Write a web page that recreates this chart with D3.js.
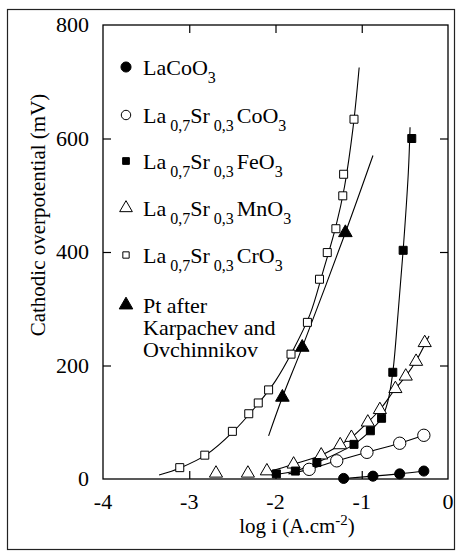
<!DOCTYPE html>
<html>
<head>
<meta charset="utf-8">
<script src="https://cdn.jsdelivr.net/npm/d3@7"></script>
<style>
  body { margin: 0; background: #fff; }
</style>
</head>
<body>
<svg id="chart" width="457" height="552" font-family="'Liberation Serif', 'Times New Roman', 'DejaVu Serif', serif"></svg>
<script>
// measured points, log i (A.cm-2) vs cathodic overpotential (mV)
var coLogI = [-1.21, -0.87, -0.56, -0.28];
var coMv = [1, 5, 9, 14];

var srCoLogI = [-1.61, -1.29, -0.94, -0.56, -0.28];
var srCoMv = [17, 32, 47, 63, 77];

var feLogI = [-1.99, -1.77, -1.52, -1.09, -0.90, -0.77, -0.64, -0.52, -0.42];
var feMv = [9, 14, 29, 61, 85, 107, 188, 403, 600];

var mnLogI = [-2.69, -2.32, -2.10, -1.79, -1.47, -1.25, -1.12, -0.93, -0.79, -0.61, -0.49, -0.37, -0.27];
var mnMv = [10, 10, 14, 26, 42, 60, 73, 100, 122, 159, 181, 207, 240];

var crLogI = [-3.11, -2.82, -2.50, -2.31, -2.20, -2.08, -1.82, -1.63, -1.49, -1.40, -1.30, -1.22, -1.21, -1.09];
var crMv = [20, 42, 84, 115, 134, 157, 220, 276, 352, 399, 441, 499, 537, 634];

var ptLogI = [-1.92, -1.69, -1.19];
var ptMv = [144, 232, 434];

// drawn curves
var coFitLogI = [-1.21, -0.87, -0.56, -0.28];
var coFitMv = [1, 5, 9, 14];
var srCoFitLogI = [-1.85, -1.61, -1.29, -0.94, -0.56, -0.28];
var srCoFitMv = [9, 17, 32, 47, 63, 77];
var feFitLogI = [-2.05, -1.77, -1.52, -1.09, -0.90, -0.77, -0.70, -0.64, -0.58, -0.52, -0.46, -0.44];
var feFitMv = [7, 14, 29, 61, 85, 107, 135, 188, 290, 403, 540, 620];
var mnFitLogI = [-2.10, -1.79, -1.47, -1.25, -1.12, -0.93, -0.79, -0.61, -0.49, -0.37, -0.22];
var mnFitMv = [12, 26, 42, 60, 73, 100, 122, 159, 181, 208, 252];
var crFitLogI = [-3.35, -3.10, -2.80, -2.50, -2.20, -2.00, -1.80, -1.60, -1.45, -1.30, -1.20, -1.10, -1.03];
var crFitMv = [7, 20, 43, 82, 133, 173, 226, 290, 365, 445, 515, 620, 725];
var ptFitLogI = [-2.08, -1.92, -1.69, -1.19, -0.87];
var ptFitMv = [76, 144, 232, 434, 570];

var xTicks = [-4, -3, -2, -1, 0];
var yTicks = [0, 200, 400, 600, 800];

var FONT = "'Liberation Serif', 'Times New Roman', 'DejaVu Serif', serif";

var svg = d3.select("#chart");

var x = d3.scaleLinear().domain([-4, 0]).range([103, 448]);
var y = d3.scaleLinear().domain([0, 800]).range([479, 25]);

function zip(a, b) { return a.map(function(v, i) { return [v, b[i]]; }); }

// outer frame of the figure
svg.append("rect")
    .attr("x", 7.5).attr("y", 9.5)
    .attr("width", 447).attr("height", 540)
    .attr("fill", "none")
    .attr("stroke", "#222")
    .attr("stroke-width", 1.2);

// plot box
svg.append("rect")
    .attr("x", x(-4)).attr("y", y(800))
    .attr("width", x(0) - x(-4)).attr("height", y(0) - y(800))
    .attr("fill", "none")
    .attr("stroke", "#000")
    .attr("stroke-width", 1.3);

// inward ticks on all four sides
var tickLen = 8;
var axB = d3.axisBottom(x).tickValues(xTicks.slice(1, -1)).tickSize(-tickLen).tickFormat("");
var axT = d3.axisTop(x).tickValues(xTicks.slice(1, -1)).tickSize(-tickLen).tickFormat("");
var axL = d3.axisLeft(y).tickValues(yTicks.slice(1, -1)).tickSize(-tickLen).tickFormat("");
var axR = d3.axisRight(y).tickValues(yTicks.slice(1, -1)).tickSize(-tickLen).tickFormat("");
svg.append("g").attr("transform", "translate(0," + y(0) + ")").call(axB);
svg.append("g").attr("transform", "translate(0," + y(800) + ")").call(axT);
svg.append("g").attr("transform", "translate(" + x(-4) + ",0)").call(axL);
svg.append("g").attr("transform", "translate(" + x(0) + ",0)").call(axR);
svg.selectAll(".domain").remove();
svg.selectAll(".tick line").attr("stroke", "#000").attr("stroke-width", 1.2);

// tick labels
svg.append("g").selectAll("text")
  .data(xTicks)
  .enter()
  .append("text")
    .attr("x", function(d) { return x(d); })
    .attr("y", 509)
    .attr("text-anchor", "middle")
    .style("font-family", FONT)
    .style("font-size", "22px")
    .text(function(d) { return d; });

svg.append("g").selectAll("text")
  .data(yTicks)
  .enter()
  .append("text")
    .attr("x", 89)
    .attr("y", function(d) { return y(d) + 7; })
    .attr("text-anchor", "end")
    .style("font-family", FONT)
    .style("font-size", "22px")
    .text(function(d) { return d; });

// axis titles
svg.append("text")
    .attr("transform", "translate(45,215) rotate(-90)")
    .attr("text-anchor", "middle")
    .style("font-family", FONT)
    .style("font-size", "21px")
    .text("Cathodic overpotential  (mV)");

var xt = svg.append("text")
    .attr("x", 297).attr("y", 533)
    .attr("text-anchor", "middle")
    .style("font-family", FONT)
    .style("font-size", "21px");
xt.append("tspan").text("log i  (A.cm");
xt.append("tspan").attr("dy", -8).style("font-size", "15px").text("-2");
xt.append("tspan").attr("dy", 8).text(")");

// fitted curves
var line = d3.line()
    .x(function(d) { return x(d[0]); })
    .y(function(d) { return y(d[1]); })
    .curve(d3.curveCatmullRom.alpha(0.5));

var fits = [
    zip(coFitLogI, coFitMv),
    zip(srCoFitLogI, srCoFitMv),
    zip(feFitLogI, feFitMv),
    zip(mnFitLogI, mnFitMv),
    zip(crFitLogI, crFitMv),
    zip(ptFitLogI, ptFitMv)
];
svg.append("g").selectAll("path")
  .data(fits)
  .enter()
  .append("path")
    .attr("d", line)
    .attr("fill", "none")
    .attr("stroke", "#000")
    .attr("stroke-width", 1.1);

// marker styles
var styles = {
    co:   { type: d3.symbolCircle,   size: 80, fill: "#000" },
    srCo: { type: d3.symbolCircle,   size: 120, fill: "#fff" },
    fe:   { type: d3.symbolSquare,   size: 64, fill: "#000" },
    mn:   { type: d3.symbolTriangle, size: 75, fill: "#fff" },
    cr:   { type: d3.symbolSquare,   size: 64, fill: "#fff" },
    pt:   { type: d3.symbolTriangle, size: 80, fill: "#000" }
};

function drawPoints(key, xs, ys) {
    var st = styles[key];
    svg.append("g").selectAll("path")
      .data(zip(xs, ys))
      .enter()
      .append("path")
        .attr("transform", function(d) { return "translate(" + x(d[0]) + "," + y(d[1]) + ")"; })
        .attr("d", d3.symbol().type(st.type).size(st.size))
        .attr("fill", st.fill)
        .attr("stroke", "#000")
        .attr("stroke-width", 1);
}

drawPoints("mn", mnLogI, mnMv);
drawPoints("srCo", srCoLogI, srCoMv);
drawPoints("fe", feLogI, feMv);
drawPoints("co", coLogI, coMv);
drawPoints("cr", crLogI, crMv);
drawPoints("pt", ptLogI, ptMv);

// legend
var legendKeys = ["co", "srCo", "fe", "mn", "cr", "pt"];
var legendY = [75, 123, 169, 216, 263, 313];
var legendSmall = { co: 80, srCo: 70, fe: 45, mn: 70, cr: 40, pt: 80 };
var legendLabels = [
    [["LaCoO", 0], ["3", 1]],
    [["La", 0], ["0,7", 1], ["Sr", 0], ["0,3", 1], ["CoO", 0], ["3", 1]],
    [["La", 0], ["0,7", 1], ["Sr", 0], ["0,3", 1], ["FeO", 0], ["3", 1]],
    [["La", 0], ["0,7", 1], ["Sr", 0], ["0,3", 1], ["MnO", 0], ["3", 1]],
    [["La", 0], ["0,7", 1], ["Sr", 0], ["0,3", 1], ["CrO", 0], ["3", 1]],
    [["Pt after", 0]]
];
var ptExtraLines = ["Karpachev and", "Ovchinnikov"];

var leg = svg.append("g").selectAll("g")
  .data(legendKeys)
  .enter()
  .append("g")
    .attr("transform", function(d, i) { return "translate(0," + legendY[i] + ")"; });

leg.append("path")
    .attr("transform", "translate(126,-8)")
    .attr("d", function(d) { return d3.symbol().type(styles[d].type).size(legendSmall[d])(); })
    .attr("fill", function(d) { return styles[d].fill; })
    .attr("stroke", "#000")
    .attr("stroke-width", 1);

leg.append("text")
    .attr("x", 143)
    .attr("y", 0)
    .style("font-family", FONT)
    .style("font-size", "22px")
    .each(function(d, i) {
        var t = d3.select(this);
        var prevSub = false;
        legendLabels[i].forEach(function(p, j) {
            var sp = t.append("tspan").text(p[0]);
            if (p[1]) {
                sp.style("font-size", "16px").attr("dy", prevSub ? 0 : 8).attr("dx", j > 0 && p[0] != "3" ? 4 : 0);
            } else if (prevSub) {
                sp.attr("dy", -8).attr("dx", p[0] == "Sr" ? 0 : 3);
            }
            prevSub = !!p[1];
        });
        // the Pt entry wraps onto more lines
        if (d == "pt") {
            ptExtraLines.forEach(function(s) {
                t.append("tspan").attr("x", 143).attr("dy", 22).text(s);
            });
        }
    });
</script>
</body>
</html>
